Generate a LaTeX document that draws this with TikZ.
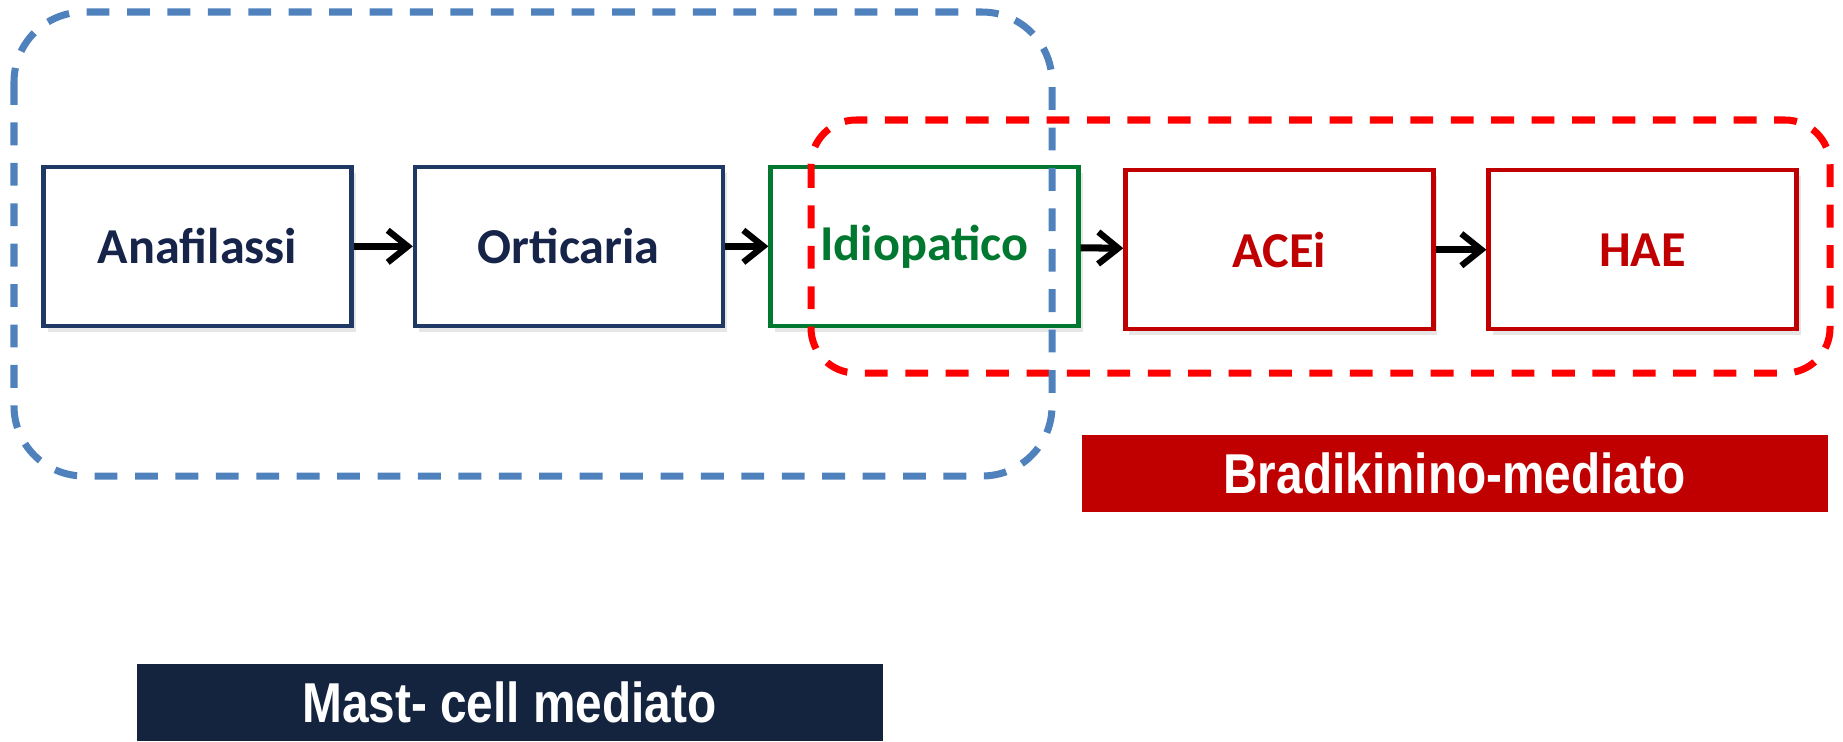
\documentclass[tikz,border=0pt]{standalone}
\usepackage{fontspec}
\setmainfont{Carlito}
\newfontfamily\tagfont[FakeStretch=0.85]{Liberation Sans}
\usetikzlibrary{arrows.meta,shadows}
\definecolor{navyline}{HTML}{1F3864}
\definecolor{navytext}{HTML}{17244A}
\definecolor{navyfill}{HTML}{14243F}
\definecolor{greenline}{HTML}{00782F}
\definecolor{darkred}{HTML}{C00000}
\definecolor{frameblue}{HTML}{4F81BD}
\definecolor{framered}{HTML}{FF0000}

\begin{document}
\begin{tikzpicture}[
        box/.style={draw,line width=1.2pt,fill=white,minimum width=3.08cm,minimum height=1.59cm,
            font=\fontsize{14.3}{16}\selectfont\bfseries,
            drop shadow={opacity=0.2,shadow xshift=0.4mm,shadow yshift=-0.6mm}},
        flow/.style={line width=2pt,-{Straight Barb[length=2mm,width=3.2mm,line width=1.8pt]}},
        frame/.style={line width=2pt,dash pattern=on 6.5pt off 5pt},
        tag/.style={minimum width=7.46cm,minimum height=0.77cm,inner sep=0pt,text=white,
            font=\tagfont\fontsize{16}{18}\selectfont\bfseries}
    ]
    \useasboundingbox (0,0) rectangle (18.43,-7.41);
    \node[box,draw=navyline,text=navytext] (ana) at (1.975,-2.463) {Anafilassi};
    \node[box,draw=navyline,text=navytext] (ort) at (5.689,-2.463) {Orticaria};
    \node[box,draw=greenline,text=greenline] (idio) at (9.245,-2.463) {Idiopatico};
    \node[box,draw=darkred,text=darkred] (acei) at (12.794,-2.497) {ACEi};
    \node[box,draw=darkred,text=darkred] (hae) at (16.425,-2.497) {HAE};
    \foreach \a/\b in {ana/ort,ort/idio,idio/acei,acei/hae}{
        \draw[flow] (\a) -- (\b);
    }
    \draw[frame,framered,rounded corners=0.45cm] (8.11,-1.20) rectangle (18.30,-3.73);
    \draw[frame,frameblue,rounded corners=0.7cm] (0.14,-0.12) rectangle (10.52,-4.76);
    \node[tag,fill=darkred] (brady) at (14.545,-4.73) {Bradikinino-mediato};
    \node[tag,fill=navyfill] (mast) at (5.095,-7.025) {Mast- cell mediato};
\end{tikzpicture}
\end{document}
